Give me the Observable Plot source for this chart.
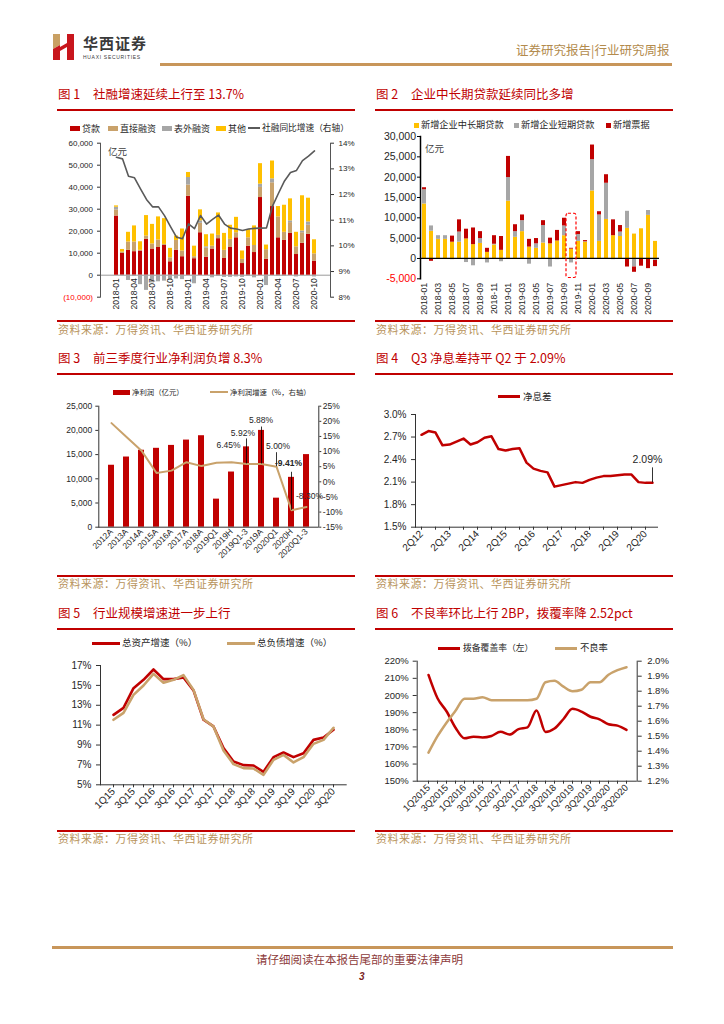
<!DOCTYPE html>
<html lang="zh-CN">
<head>
<meta charset="utf-8">
<title>行业研究周报</title>
<script src="https://cdn.jsdelivr.net/npm/d3@7"></script>
<script src="https://cdn.jsdelivr.net/npm/@observablehq/plot@0.6"></script>
<style>
  html,body{margin:0;padding:0;background:#fff;}
  #page{position:relative;width:724px;height:1024px;overflow:hidden;background:#fff;font-family:"Noto Sans CJK SC","Noto Sans",sans-serif;}
  .t{position:absolute;white-space:pre;line-height:1;}
  .b{position:absolute;}
</style>
</head>
<body>
<div id="page"></div>
<script>
// ================= DATA =================
// 图1 / 图2 months
const months = ["2018-01","2018-02","2018-03","2018-04","2018-05","2018-06","2018-07","2018-08","2018-09","2018-10","2018-11","2018-12",
  "2019-01","2019-02","2019-03","2019-04","2019-05","2019-06","2019-07","2019-08","2019-09","2019-10","2019-11","2019-12",
  "2020-01","2020-02","2020-03","2020-04","2020-05","2020-06","2020-07","2020-08","2020-09","2020-10"];
const ticks1 = ["2018-01","2018-04","2018-07","2018-10","2019-01","2019-04","2019-07","2019-10","2020-01","2020-04","2020-07","2020-10"];
const ticks2 = ["2018-01","2018-03","2018-05","2018-07","2018-09","2018-11","2019-01","2019-03","2019-05","2019-07","2019-09","2019-11","2020-01","2020-03","2020-05","2020-07","2020-09"];

// 图1 社融 (亿元) and growth (%)
const series1 = ["贷款","直接融资","表外融资","其他"];
const loans1  = [26900, 9900,11300,10700,11000,16300,11900,12600,13500, 6100,11400, 8400,35900, 7500,19300, 8200,11900,16600, 7600,12600,17000, 5300,13200,10300,35300, 7300,31200,17000,15800,19000, 9400,14500,18600, 6400];
const direct1 = [ 2800,  600, 3800, 4400,  300, 1500, 2300, 3400,  500, 1800, 4400, 2600, 5100,  900, 4300, 4100, 1300, 1500, 3700, 3700, 2300, 1900, 3800, 3200, 4600, 4300,10800, 9500, 3700, 4900, 3500, 4800, 4100, 3300];
const offbs1  = [ 1200, -300,-2400, -600,-4300,-6900,-3500,-3000,-2700,-2300,-1700,-2000, 3400,-3900, 1100,  600,-1200, -600,-1000,-1000, -800,-1000, -500,-1200, 1500,-4700, 1800, -500, -500,  800, -800,  800, 1500, -800];
const other1  = [  600, 1200, 4400, 7300, 3900, 9300, 8900,10500,11700, 4300, 2000,10000, 2300, 4800, 5000, 5500, 5500,10200, 7700, 6400, 7000, 3800, 3700, 8900, 9300, 2100, 8100, 4700,12300,10000, 6600,16000,10800, 6400];
const growth1 = [13.45,13.39,12.71,12.65,12.22,11.81,11.52,11.52,11.18,10.75,10.34,10.28,10.86,10.67,11.18,10.85,11.03,11.20,10.85,10.69,10.66,10.60,10.66,10.68,10.69,10.70,11.55,12.05,12.53,12.86,12.94,13.32,13.50,13.70];
const yTicks1L = [0,10000,20000,30000,40000,50000,60000];
const yTicks1R = [8,9,10,11,12,13,14];

// 图2 企业贷款 (亿元)
const series2 = ["新增企业中长期贷款","新增企业短期贷款","新增票据"];
const mlt2  = [13400, 6700, 4700, 4700, 4000, 4000, 4800, 3400, 3700, 1500, 3300, 2000,14100, 5200, 6600, 2800, 2500, 3800, 3600, 4300, 5600, 2300, 4200, 4000,16600, 4200, 9600, 5600, 5400, 7400, 6000, 7300,10600, 4200];
const st2   = [ 3500, 1300,  900,  900, -300, 2500,-1000,-1800, 1200,-1100,  200, -800, 5800, 1400, 2700,-1400, 1100, 4300,-2100, -300, 2400,-1100, 1700,  100, 7700, 6500, 8900, -300, 1100, 4200,-2100, -200, 1200, -500];
const bill2 = [  500, -700,    0,    0, 1500, 3000, 2400, 4100, 1700, 1000, 2100, 3400, 5200, 1700, 1400, 1900, 1300, 1200, 1400, 2600, 1900,  200,  700,  300, 3600,  800, 2100, 3900, 1600,-2100,-1300,-1700,-2500,-1500];
const highlight2 = [{month:"2019-10", lo:-4800, hi:11000}];
const yTicks2 = [0,5000,10000,15000,20000,25000,30000];

// 图3 净利润
const cats3 = ["2012A","2013A","2014A","2015A","2016A","2017A","2018A","2019Q1","2019H","2019Q1-3","2019A","2020Q1","2020H","2020Q1-3"];
const profit3 = [12800,14500,15900,16300,16900,18000,18900,5800,11400,16600,20000,6000,10300,15000];
const growth3 = [19.4,14.8,10.3,2.9,3.7,6.5,5.2,6.3,6.45,5.92,5.88,5.00,-9.41,-8.30];
const labels3 = [
  {cat:"2019H", v:6.45, text:"6.45%"},
  {cat:"2019Q1-3", v:5.92, text:"5.92%"},
  {cat:"2019A", v:5.88, text:"5.88%"},
  {cat:"2020Q1", v:5.00, text:"5.00%"},
  {cat:"2020H", v:-9.41, text:"-9.41%"},
  {cat:"2020Q1-3", v:-8.30, text:"-8.30%"}
];
const yTicks3L = [0,5000,10000,15000,20000,25000];
const yTicks3R = [-15,-10,-5,0,5,10,15,20,25];

// 图4 净息差
const quarters4 = ["2Q12","3Q12","4Q12","1Q13","2Q13","3Q13","4Q13","1Q14","2Q14","3Q14","4Q14","1Q15","2Q15","3Q15","4Q15",
  "1Q16","2Q16","3Q16","4Q16","1Q17","2Q17","3Q17","4Q17","1Q18","2Q18","3Q18","4Q18","1Q19","2Q19","3Q19","4Q19","1Q20","2Q20","3Q20"];
const nim4 = [2.73,2.78,2.76,2.59,2.60,2.64,2.68,2.60,2.63,2.69,2.71,2.54,2.52,2.54,2.55,2.36,2.28,2.25,2.23,2.04,2.06,2.08,2.10,2.09,2.13,2.16,2.18,2.18,2.19,2.20,2.20,2.10,2.09,2.09];
const ticks4 = ["2Q12","2Q13","2Q14","2Q15","2Q16","2Q17","2Q18","2Q19","2Q20"];
const yTicks4 = [1.5,1.8,2.1,2.4,2.7,3.0];

// 图5 规模增速
const quarters5 = ["1Q15","2Q15","3Q15","4Q15","1Q16","2Q16","3Q16","4Q16","1Q17","2Q17","3Q17","4Q17","1Q18","2Q18","3Q18","4Q18","1Q19","2Q19","3Q19","4Q19","1Q20","2Q20","3Q20"];
const assets5 = [12.04,12.74,14.72,15.56,16.60,15.63,15.63,15.80,14.49,11.54,10.87,8.69,7.35,6.98,6.94,6.31,7.78,8.25,7.78,8.18,9.52,9.76,10.53];
const liab5   = [11.54,12.24,14.05,14.99,16.16,15.26,15.56,16.03,14.55,11.60,10.87,8.45,7.08,6.68,6.64,6.00,7.51,8.01,7.25,7.78,9.12,9.52,10.73];
const ticks5 = ["1Q15","3Q15","1Q16","3Q16","1Q17","3Q17","1Q18","3Q18","1Q19","3Q19","1Q20","3Q20"];
const yTicks5 = [5,7,9,11,13,15,17];

// 图6 不良率 / 拨备覆盖率
const quarters6 = ["1Q2015","2Q2015","3Q2015","4Q2015","1Q2016","2Q2016","3Q2016","4Q2016","1Q2017","2Q2017","3Q2017","4Q2017",
  "1Q2018","2Q2018","3Q2018","4Q2018","1Q2019","2Q2019","3Q2019","4Q2019","1Q2020","2Q2020","3Q2020"];
const coverage6 = [212.0,198.4,190.8,181.2,175.0,176.0,175.5,176.4,178.8,177.2,180.4,181.4,191.3,178.7,180.7,186.3,192.2,190.6,187.6,186.1,183.2,182.4,179.9];
const npl6      = [1.39,1.50,1.59,1.67,1.75,1.75,1.76,1.74,1.74,1.74,1.74,1.74,1.75,1.86,1.87,1.83,1.80,1.81,1.86,1.86,1.91,1.94,1.96];
const ticks6 = ["1Q2015","3Q2015","1Q2016","3Q2016","1Q2017","3Q2017","1Q2018","3Q2018","1Q2019","3Q2019","1Q2020","3Q2020"];
const yTicks6L = [150,160,170,180,190,200,210,220];
const yTicks6R = [1.2,1.3,1.4,1.5,1.6,1.7,1.8,1.9,2.0];

// ================= STYLE / HELPERS =================
const RED = "#c00000", TAN = "#c9a26b", GRAY = "#a6a6a6", YEL = "#ffc000", LINEG = "#5a5a5a";
const GOLD = "#b8935a", TEXT = "#262626", AX = "#333";
const NUM = '"Liberation Sans", Arial, sans-serif';
const page = document.getElementById("page");

function T(str, left, cy, size, color, extra = "") {
  const d = document.createElement("div");
  d.className = "t";
  d.textContent = str;
  d.style.cssText = `left:${left}px;top:${cy - size * 0.5}px;font-size:${size}px;color:${color};${extra}`;
  page.appendChild(d);
  return d;
}
function B(left, top, w, h, color, extra = "") {
  const d = document.createElement("div");
  d.className = "b";
  d.style.cssText = `left:${left}px;top:${top}px;width:${w}px;height:${h}px;background:${color};${extra}`;
  page.appendChild(d);
  return d;
}
function place(svg, left, top) {
  svg.style.position = "absolute";
  svg.style.left = left + "px";
  svg.style.top = top + "px";
  page.appendChild(svg);
}
const S = (fs) => ({background: "transparent", overflow: "visible", fontFamily: NUM, fontSize: fs + "px", color: TEXT});
const fmtComma = (d) => (d < 0 ? "-" : "") + d3.format(",")(Math.abs(d));

// ================= HEADER =================
const logo = document.createElementNS("http://www.w3.org/2000/svg", "svg");
logo.setAttribute("width", "24"); logo.setAttribute("height", "26");
logo.innerHTML = `
  <polygon points="1,0 8,0 8,11 1,15" fill="#c9a063"/>
  <polygon points="1,15 8,11 8,26 1,26" fill="#c8161d"/>
  <polygon points="8,13 15,9 15,13 8,17" fill="#c8161d"/>
  <polygon points="15,0 22,0 22,26 15,26" fill="#c8161d"/>`;
logo.style.cssText = "position:absolute;left:52px;top:34px;";
page.appendChild(logo);
T("华西证券", 83, 42.5, 15, "#3a3a3a", "font-weight:700;letter-spacing:1px;");
T("HUAXI SECURITIES", 83, 57.5, 5, "#3a3a3a", "font-family:" + NUM + ";letter-spacing:0.7px;");
T("证券研究报告|行业研究周报", 516, 50, 12.5, "#b38b4d");
B(160, 63, 512, 3, "#c8965a");

// ================= PANEL FRAMES =================
const cols = [57, 375];
const rowTitle = [94, 358, 613], rowTop = [109, 373, 628], rowBot = [320, 575, 830], rowSrc = [329, 583.5, 838.5];
const titles = [
  ["图 1", "社融增速延续上行至 13.7%"], ["图 2", "企业中长期贷款延续同比多增"],
  ["图 3", "前三季度行业净利润负增 8.3%"], ["图 4", "Q3 净息差持平 Q2 于 2.09%"],
  ["图 5", "行业规模增速进一步上行"], ["图 6", "不良率环比上行 2BP，拨覆率降 2.52pct"]
];
for (let r = 0; r < 3; r++) {
  for (let c = 0; c < 2; c++) {
    const x0 = cols[c];
    const tt = titles[r * 2 + c];
    T(tt[0], x0 + 1, rowTitle[r], 12.5, RED);
    T(tt[1], x0 + 36, rowTitle[r], 12.5, RED);
    B(x0, rowTop[r], 298, 2, RED);
    B(x0, rowBot[r], 298, 1.5, RED);
    T("资料来源：万得资讯、华西证券研究所", x0 + 1, rowSrc[r], 11, GOLD, "letter-spacing:0.5px;");
  }
}

// ================= CHART 1 =================
{
  const long = [];
  months.forEach((m, i) => {
    long.push({month: m, series: "贷款", value: loans1[i]},
              {month: m, series: "直接融资", value: direct1[i]},
              {month: m, series: "表外融资", value: offbs1[i]},
              {month: m, series: "其他", value: other1[i]});
  });
  const W = 298, H = 180, M = {marginLeft: 43, marginRight: 25, marginTop: 7.7, marginBottom: 18.3};
  const X = {type: "band", domain: months, paddingInner: 0.35, paddingOuter: 0.2, axis: null, label: null};
  const a = Plot.plot({
    width: W, height: H, ...M, x: X,
    y: {domain: [-10000, 60000], axis: null, label: null},
    color: {domain: series1, range: [RED, TAN, GRAY, YEL]},
    style: S(8),
    marks: [
      Plot.ruleY([0], {stroke: "#9a9a9a", strokeWidth: 1}),
      Plot.barY(long, Plot.stackY({x: "month", y: "value", fill: "series", order: series1})),
      Plot.text(ticks1, {x: (d) => d, y: () => 0, text: (d) => d, rotate: -90, textAnchor: "end", dy: 3, fontSize: 8.5, fill: TEXT}),
      Plot.axisY(yTicks1L, {tickFormat: fmtComma, tickSize: 3, tickPadding: 4.5, fontSize: 8, label: null, stroke: AX, fill: TEXT}),
      Plot.axisY([-10000], {tickFormat: () => "(10,000)", tickSize: 3, tickPadding: 4.5, fontSize: 8, label: null, stroke: AX, fill: "#ff0000"}),
      Plot.frame({anchor: "left", stroke: "#555"})
    ]
  });
  place(a, 57, 135);
  const g = months.map((m, i) => ({month: m, g: growth1[i]}));
  const b = Plot.plot({
    width: W, height: H, ...M, x: X,
    y: {domain: [8, 14], axis: null, label: null},
    style: S(8),
    marks: [
      Plot.line(g, {x: "month", y: "g", stroke: LINEG, strokeWidth: 1.6}),
      Plot.axisY(yTicks1R, {anchor: "right", tickFormat: (d) => d + "%", tickSize: 3, tickPadding: 5, fontSize: 8, label: null, stroke: AX, fill: TEXT}),
      Plot.frame({anchor: "right", stroke: "#555"})
    ]
  });
  place(b, 57, 135);
  // legend
  const cy = 128;
  B(70, cy - 2.5, 10, 5, RED);  T("贷款", 82, cy, 9, TEXT);
  B(108, cy - 2.5, 10, 5, TAN); T("直接融资", 120, cy, 9, TEXT);
  B(162, cy - 2.5, 10, 5, GRAY); T("表外融资", 174, cy, 9, TEXT);
  B(216, cy - 2.5, 10, 5, YEL); T("其他", 228, cy, 9, TEXT);
  B(248, cy - 0.75, 12, 1.5, LINEG); T("社融同比增速（右轴）", 262, cy, 8.7, TEXT);
  T("亿元", 108, 152, 9.5, "#404040");
}

// ================= CHART 2 =================
{
  const long = [];
  months.forEach((m, i) => {
    long.push({month: m, series: series2[0], value: mlt2[i]},
              {month: m, series: series2[1], value: st2[i]},
              {month: m, series: series2[2], value: bill2[i]});
  });
  const c = Plot.plot({
    width: 297, height: 185, marginLeft: 45, marginRight: 13, marginTop: 6, marginBottom: 36.7,
    x: {type: "band", domain: months, paddingInner: 0.4, paddingOuter: 0.05, axis: null, label: null},
    y: {domain: [-5000, 30000], axis: null, label: null},
    color: {domain: series2, range: [YEL, GRAY, RED]},
    style: S(10),
    marks: [
      Plot.barY(long, Plot.stackY({x: "month", y: "value", fill: "series", order: series2})),
      Plot.ruleY([0], {stroke: "#000", strokeWidth: 1.2}),
      Plot.barY(highlight2, {x: "month", y1: "lo", y2: "hi", fill: "none", stroke: "#ff0000", strokeWidth: 1.2, strokeDasharray: "3,2", insetLeft: -3, insetRight: -3, rx: 2}),
      Plot.axisY(yTicks2, {tickFormat: fmtComma, tickSize: 3, tickPadding: 1.5, fontSize: 10.5, label: null, stroke: "#000", fill: TEXT}),
      Plot.axisY([-5000], {tickFormat: fmtComma, tickSize: 3, tickPadding: 1.5, fontSize: 10.5, label: null, stroke: "#000", fill: "#ff0000"}),
      Plot.frame({anchor: "left", stroke: "#000", strokeWidth: 1.5}),
      Plot.axisX(ticks2, {tickRotate: -90, tickSize: 0, tickPadding: 4, fontSize: 8.7, label: null, fill: TEXT})
    ]
  });
  place(c, 375, 130);
  const cy = 125;
  B(414, cy - 2.5, 5, 5, YEL);  T(series2[0], 421, cy, 9.2, TEXT);
  B(514, cy - 2.5, 5, 5, GRAY); T(series2[1], 521, cy, 9.2, TEXT);
  B(606, cy - 2.5, 5, 5, RED);  T(series2[2], 613, cy, 9.2, TEXT);
  T("亿元", 425, 149, 9.5, "#404040");
}

// ================= CHART 3 =================
{
  const W = 298, H = 170, M = {marginLeft: 41.3, marginRight: 36.7, marginTop: 5.7, marginBottom: 43.3};
  const X = {type: "band", domain: cats3, paddingInner: 0.6, paddingOuter: 0.22, axis: null, label: null};
  const bars = cats3.map((c, i) => ({cat: c, v: profit3[i]}));
  const a = Plot.plot({
    width: W, height: H, ...M, x: X,
    y: {domain: [0, 25000], axis: null, label: null},
    style: S(8.5),
    marks: [
      Plot.barY(bars, {x: "cat", y: "v", fill: RED}),
      Plot.ruleY([0], {stroke: AX}),
      Plot.axisY(yTicks3L, {tickFormat: fmtComma, tickSize: 3, tickPadding: 3.5, fontSize: 8.5, label: null, stroke: AX, fill: TEXT}),
      Plot.frame({anchor: "left", stroke: AX}),
      Plot.axisX({tickRotate: -45, tickSize: 0, tickPadding: 3, fontSize: 8.5, label: null, fill: TEXT})
    ]
  });
  place(a, 57, 400);
  const line = cats3.map((c, i) => ({cat: c, v: growth3[i]}));
  const offs = [
    {dx: -3, dy: -17, lead: 0, bold: false},
    {dx: -3.6, dy: -31, lead: 25, bold: false},
    {dx: -0.5, dy: -43.5, lead: 37, bold: false},
    {dx: 1.6, dy: -20, lead: 14, bold: false},
    {dx: -3, dy: -47, lead: 38, bold: true},
    {dx: 3, dy: -10.5, lead: 0, bold: false}
  ];
  const ann = [];
  labels3.forEach((d, i) => {
    const o = offs[i];
    if (o.lead > 0) ann.push(Plot.ruleX([d], {x: "cat", y1: "v", y2: "v", insetTop: -o.lead, stroke: "#000", strokeWidth: 0.8}));
    ann.push(Plot.text([d], {x: "cat", y: "v", text: "text", dx: o.dx, dy: o.dy, fontSize: 8.5, fontWeight: o.bold ? "bold" : "normal", fill: TEXT}));
  });
  const b = Plot.plot({
    width: W, height: H, ...M, x: X,
    y: {domain: [-15, 25], axis: null, label: null},
    style: S(8.5),
    marks: [
      Plot.line(line, {x: "cat", y: "v", stroke: TAN, strokeWidth: 2}),
      ...ann,
      Plot.axisY(yTicks3R, {anchor: "right", tickFormat: (d) => d + "%", tickSize: 2, tickPadding: 2, fontSize: 8.5, label: null, stroke: AX, fill: TEXT}),
      Plot.frame({anchor: "right", stroke: AX})
    ]
  });
  place(b, 57, 400);
  const cy = 392;
  B(113, cy - 2.5, 17, 5, RED); T("净利润（亿元）", 132, cy, 7.4, TEXT);
  B(210, cy - 1, 18, 2, TAN);   T("净利润增速（%，右轴）", 230, cy, 7.4, TEXT);
}

// ================= CHART 4 =================
{
  const rows = quarters4.map((q, i) => ({q, v: nim4[i]}));
  const last = rows[rows.length - 1];
  const c = Plot.plot({
    width: 297, height: 165, marginLeft: 40, marginRight: 14, marginTop: 9, marginBottom: 43.3,
    x: {type: "point", domain: quarters4, padding: 0.33, axis: null, label: null},
    y: {domain: [1.5, 3.0], axis: null, label: null},
    style: S(10),
    marks: [
      Plot.axisY(yTicks4, {tickFormat: (d) => d.toFixed(1) + "%", tickSize: 4, tickPadding: 5, fontSize: 10, label: null, stroke: AX, fill: TEXT}),
      Plot.frame({anchor: "left", stroke: AX}),
      Plot.ruleY([1.5], {stroke: AX}),
      Plot.axisX(quarters4.filter((q, i) => i % 2 === 0), {tickSize: 3, tickFormat: () => "", label: null, stroke: AX}),
      Plot.axisX(ticks4, {tickRotate: -45, tickSize: 0, tickPadding: 5, fontSize: 10, label: null, fill: TEXT}),
      Plot.line(rows, {x: "q", y: "v", stroke: RED, strokeWidth: 2.5}),
      Plot.ruleX([last], {x: "q", y1: "v", y2: "v", insetTop: -15, stroke: "#000", strokeWidth: 0.8}),
      Plot.text([last], {x: "q", y: "v", text: (d) => d.v.toFixed(2) + "%", dx: -5, dy: -23.5, fontSize: 10.5, fill: TEXT})
    ]
  });
  place(c, 375, 405);
  const cy = 396.7;
  B(498, cy - 1.5, 22, 3, RED); T("净息差", 523, cy, 9.5, TEXT);
}

// ================= CHART 5 =================
{
  const ra = quarters5.map((q, i) => ({q, v: assets5[i]}));
  const rl = quarters5.map((q, i) => ({q, v: liab5[i]}));
  const c = Plot.plot({
    width: 298, height: 168, marginLeft: 43, marginRight: 8.3, marginTop: 7, marginBottom: 41.7,
    x: {type: "point", domain: quarters5, padding: 0.45, axis: null, label: null},
    y: {domain: [5, 17], axis: null, label: null},
    style: S(10),
    marks: [
      Plot.axisY(yTicks5, {tickFormat: (d) => d + "%", tickSize: 4, tickPadding: 5, fontSize: 10, label: null, stroke: AX, fill: TEXT}),
      Plot.frame({anchor: "left", stroke: AX}),
      Plot.ruleY([5], {stroke: AX}),
      Plot.axisX(quarters5, {tickSize: 3, tickFormat: () => "", label: null, stroke: AX}),
      Plot.axisX(ticks5, {tickRotate: -45, tickSize: 0, tickPadding: 5, fontSize: 10, label: null, fill: TEXT}),
      Plot.line(ra, {x: "q", y: "v", stroke: RED, strokeWidth: 2.6}),
      Plot.line(rl, {x: "q", y: "v", stroke: TAN, strokeWidth: 2.6})
    ]
  });
  place(c, 57, 658);
  const cy = 643;
  B(92, cy - 1.5, 28, 3, RED); T("总资产增速（%）", 122, cy, 9.5, TEXT);
  B(227, cy - 1.5, 28, 3, TAN); T("总负债增速（%）", 257, cy, 9.5, TEXT);
}

// ================= CHART 6 =================
{
  const W = 297, H = 170, M = {marginLeft: 41.7, marginRight: 35.3, marginTop: 5.7, marginBottom: 44.3};
  const X = {type: "point", domain: quarters6, padding: 0.34, axis: null, label: null};
  const rc = quarters6.map((q, i) => ({q, v: coverage6[i]}));
  const rn = quarters6.map((q, i) => ({q, v: npl6[i]}));
  const a = Plot.plot({
    width: W, height: H, ...M, x: X,
    y: {domain: [150, 220], axis: null, label: null},
    style: S(9.5),
    marks: [
      Plot.axisY(yTicks6L, {tickFormat: (d) => d + "%", tickSize: 4, tickPadding: 4.5, fontSize: 9.5, label: null, stroke: AX, fill: TEXT}),
      Plot.frame({anchor: "left", stroke: AX}),
      Plot.ruleY([150], {stroke: AX}),
      Plot.axisX(quarters6, {tickSize: 3, tickFormat: () => "", label: null, stroke: AX}),
      Plot.axisX(ticks6, {tickRotate: -45, tickSize: 0, tickPadding: 5, fontSize: 9.5, label: null, fill: TEXT}),
      Plot.line(rc, {x: "q", y: "v", stroke: RED, strokeWidth: 2.5, curve: "monotone-x"})
    ]
  });
  place(a, 375, 655);
  const b = Plot.plot({
    width: W, height: H, ...M, x: X,
    y: {domain: [1.2, 2.0], axis: null, label: null},
    style: S(9.5),
    marks: [
      Plot.line(rn, {x: "q", y: "v", stroke: TAN, strokeWidth: 2.5, curve: "monotone-x"}),
      Plot.axisY(yTicks6R, {anchor: "right", tickFormat: (d) => d.toFixed(1) + "%", tickSize: 4, tickPadding: 6, fontSize: 9.5, label: null, stroke: AX, fill: TEXT}),
      Plot.frame({anchor: "right", stroke: AX})
    ]
  });
  place(b, 375, 655);
  const cy = 648;
  B(438, cy - 1.5, 22, 3, RED); T("拨备覆盖率（左）", 463, cy, 8.8, TEXT);
  B(555, cy - 1.5, 22, 3, TAN); T("不良率", 580, cy, 9.3, TEXT);
}

// ================= FOOTER =================
B(52, 946, 621, 3, "#c8965a");
T("请仔细阅读在本报告尾部的重要法律声明", 256, 960, 11.5, "#8c3a3a");
T("3", 359, 977, 10, "#7b1f1f", "font-weight:700;font-style:italic;font-family:" + NUM + ";");
</script>
</body>
</html>
